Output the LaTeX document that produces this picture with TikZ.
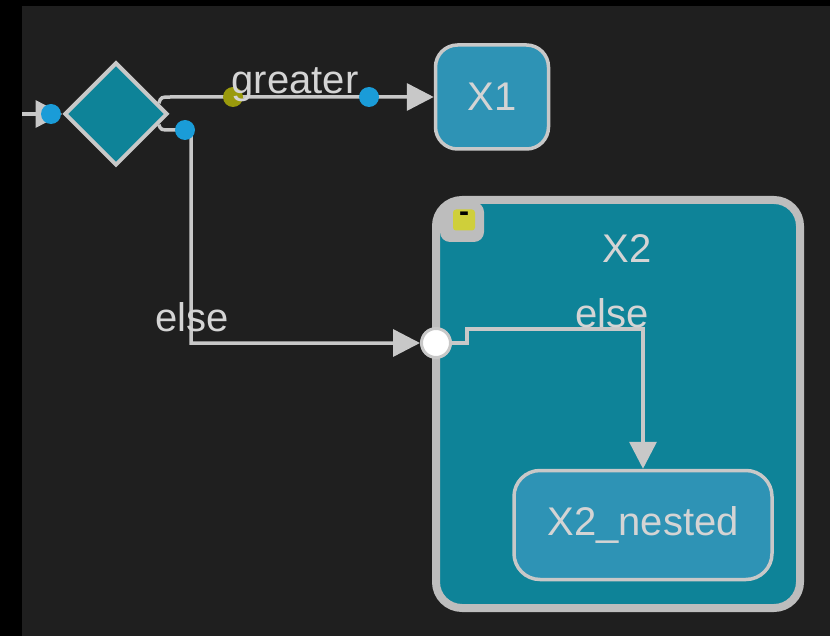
\documentclass[tikz,border=0pt]{standalone}
\usepackage{fontspec}
\setmainfont{Liberation Sans}
\usetikzlibrary{shapes.geometric,arrows.meta,calc}
\definecolor{bgdark}{HTML}{1F1F1F}
\definecolor{tealfill}{HTML}{0E8398}
\definecolor{stateblue}{HTML}{2E93B5}
\definecolor{edgegray}{HTML}{C8C8C8}
\definecolor{xborder}{HTML}{BDBDBD}
\definecolor{dotblue}{HTML}{1A9CD8}
\definecolor{dotolive}{HTML}{9A9A0C}
\definecolor{txtgray}{HTML}{D4D4D4}
\definecolor{btnyellow}{HTML}{CFCF3A}
\begin{document}
\begin{tikzpicture}[x=1pt,y=-1pt,
  bigfont/.style={font=\fontsize{40}{48}\selectfont},
  statebox/.style={draw=edgegray, line width=3.5pt, fill=stateblue, rounded corners=22pt,
    text=txtgray, bigfont, inner sep=0pt},
  lbl/.style={text=txtgray, bigfont, inner sep=0pt},
  conn/.style={draw=edgegray, line width=3.5pt, -{Triangle[length=27pt,width=27pt]}},
  portdot/.style={circle, fill=#1, minimum size=20pt, inner sep=0pt},
]
\useasboundingbox (0,0) rectangle (830,636);
\fill[black] (0,0) rectangle (830,636);
\fill[bgdark] (22,6) rectangle (830,636);

% composite state X2
\node[draw=xborder, line width=8pt, fill=tealfill, rounded corners=26pt,
      minimum width=364pt, minimum height=408pt, inner sep=0pt] (x2) at (618,404) {};
\node[fill=xborder, rounded corners=10pt, minimum width=44pt, minimum height=40pt, inner sep=0pt] (bf) at (462,222) {};
\node[fill=btnyellow, rounded corners=3pt, minimum width=22pt, minimum height=21pt, inner sep=0pt] (bt) at (464,220) {};
\node[text=black, font=\fontsize{30}{30}\selectfont\bfseries, inner sep=0pt, anchor=base] (minus) at (464,222) {-};
\node[lbl] (x2l) at (627,249) {X2};

% simple states
\node[statebox, minimum width=113pt, minimum height=104pt] (x1) at (492,97) {X1};
\node[statebox, rounded corners=26pt, minimum width=258pt, minimum height=109pt] (x2n) at (643,525) {X2\_nested};

% choice
\node[diamond, aspect=1, draw=edgegray, line width=4pt, fill=tealfill, minimum size=103pt, inner sep=0pt] (d) at (116,114) {};

% entry point
\node[circle, draw=edgegray, fill=white, line width=3pt, minimum size=29pt, inner sep=0pt] (en) at (436,343) {};

% helper coordinates
\coordinate (in) at (22,114);
\coordinate (g0) at ($(d.east)!0.2!(d.north)$);
\coordinate (gc) at (161,97);
\coordinate (g1) at (171,97);
\coordinate (e0) at ($(d.east)!0.2!(d.south)$);
\coordinate (ec) at (161,130);
\coordinate (e1) at (171,130);
\coordinate (e2) at (191,130);
\coordinate (i1) at (467,329);
\coordinate (i2) at (643,329);

% connectors
\draw[conn] (in) -- (d.west);
\draw[conn] (g0) .. controls (gc) .. (g1) -- (x1.west |- g1);
\draw[conn] (e0) .. controls (ec) .. (e1) -- (e2) |- (en.west);
\draw[conn] (en.east) -| (i1) -- (i2) -- (x2n.north);

% ports
\node[portdot=dotblue] (p1) at (51,114) {};
\node[portdot=dotolive] (p2) at (233,97) {};
\node[portdot=dotblue] (p3) at (369,97) {};
\node[portdot=dotblue] (p4) at (185,130) {};

% labels
\node[lbl, anchor=base] (lg) at (295,94) {greater};
\node[lbl, anchor=base] (le1) at (192,332) {else};
\node[lbl, anchor=base] (le2) at (612,327) {else};
\end{tikzpicture}
\end{document}
